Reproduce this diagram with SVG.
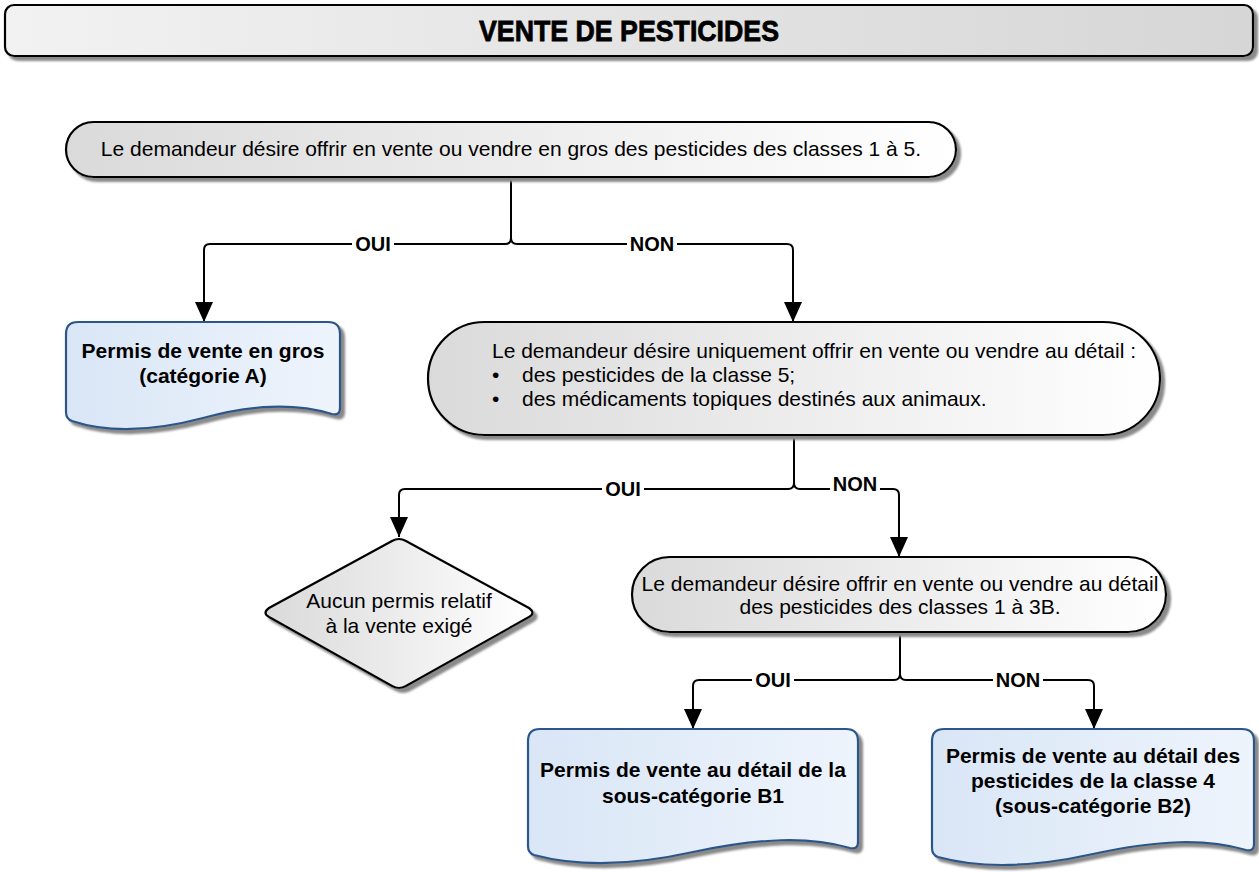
<svg xmlns="http://www.w3.org/2000/svg" width="1259" height="872" viewBox="0 0 1259 872">
<defs>
<linearGradient id="gGray" x1="0" y1="0" x2="1" y2="0">
<stop offset="0" stop-color="#dadada"/>
<stop offset="1" stop-color="#ffffff"/>
</linearGradient>
<linearGradient id="gTitle" x1="0" y1="0" x2="1" y2="0">
<stop offset="0" stop-color="#f2f2f2"/>
<stop offset="1" stop-color="#d6d6d6"/>
</linearGradient>
<linearGradient id="gBlue" x1="0" y1="0" x2="1" y2="0">
<stop offset="0" stop-color="#d9e6f6"/>
<stop offset="1" stop-color="#eef4fc"/>
</linearGradient>
<filter id="sh" x="-10%" y="-20%" width="120%" height="140%">
<feDropShadow dx="4" dy="4" stdDeviation="0.8" flood-color="#8a8a8a" flood-opacity="1"/>
</filter>
<marker id="arr" markerUnits="userSpaceOnUse" markerWidth="20" markerHeight="20" viewBox="0 0 20 18" refX="20" refY="9" orient="auto">
<path d="M0,0 L20,9 L0,18 Z" fill="#000"/>
</marker>
</defs>
<style>
.gray{fill:url(#gGray);stroke:#000;stroke-width:2.2;filter:url(#sh)}
.blue{fill:url(#gBlue);stroke:#2b578a;stroke-width:2.2;filter:url(#sh)}
.t{font-family:"Liberation Sans",Arial,sans-serif;font-size:21px;fill:#000}
.b{font-family:"Liberation Sans",Arial,sans-serif;font-size:21px;font-weight:bold;fill:#000}
.lbl{font-family:"Liberation Sans",Arial,sans-serif;font-size:20px;font-weight:bold;fill:#000}
.c{fill:none;stroke:#000;stroke-width:2}
.lb{fill:#fff}
</style>

<g id="title">
<rect x="5" y="5" width="1248" height="51" rx="9" fill="url(#gTitle)" stroke="#000" stroke-width="2.2" filter="url(#sh)"/>
<text x="629" y="41" text-anchor="middle" font-family="Liberation Sans,Arial,sans-serif" font-size="30" font-weight="bold" stroke="#000" stroke-width="0.8" textLength="300" lengthAdjust="spacingAndGlyphs">VENTE DE PESTICIDES</text>
</g>

<g id="connectors">
<path class="c" d="M511,177 V238 Q511,244 505,244 H210 Q204,244 204,250 V322" marker-end="url(#arr)"/>
<path class="c" d="M511,238 Q511,244 517,244 H787 Q793,244 793,250 V322" marker-end="url(#arr)"/>
<path class="c" d="M794,435 V483 Q794,489 788,489 H405 Q399,489 399,495 V537" marker-end="url(#arr)"/>
<path class="c" d="M794,483 Q794,489 800,489 H893 Q899,489 899,495 V557" marker-end="url(#arr)"/>
<path class="c" d="M900,632 V674 Q900,680 894,680 H699 Q693,680 693,686 V729" marker-end="url(#arr)"/>
<path class="c" d="M900,674 Q900,680 906,680 H1088 Q1094,680 1094,686 V729" marker-end="url(#arr)"/>
<rect class="lb" x="352" y="234" width="42" height="20"/>
<text class="lbl" x="373" y="251" text-anchor="middle">OUI</text>
<rect class="lb" x="627" y="234" width="50" height="20"/>
<text class="lbl" x="652" y="251" text-anchor="middle">NON</text>
<rect class="lb" x="602" y="479" width="42" height="20"/>
<text class="lbl" x="623" y="496" text-anchor="middle">OUI</text>
<rect class="lb" x="830" y="474" width="50" height="20"/>
<text class="lbl" x="855" y="491" text-anchor="middle">NON</text>
<rect class="lb" x="752" y="670" width="42" height="20"/>
<text class="lbl" x="773" y="687" text-anchor="middle">OUI</text>
<rect class="lb" x="993" y="670" width="50" height="20"/>
<text class="lbl" x="1018" y="687" text-anchor="middle">NON</text>
</g>

<g id="node1">
<rect class="gray" x="66" y="122" width="890" height="55" rx="27.5"/>
<text class="t" x="511" y="156" text-anchor="middle">Le demandeur désire offrir en vente ou vendre en gros des pesticides des classes 1 à 5.</text>
</g>

<g id="nodeA">
<path class="blue" d="M66,334 Q66,322 78,322 L328,322 Q340,322 340,334 L340,408 Q340,416 332,414 C292,402 250,405 203,418 C150,432 105,432 72,421 Q66,419 66,412 Z"/>
<text class="b" x="203" y="358" text-anchor="middle">Permis de vente en gros</text>
<text class="b" x="203" y="383" text-anchor="middle">(catégorie A)</text>
</g>

<g id="node2">
<rect class="gray" x="428" y="322" width="732" height="113" rx="56.5"/>
<text class="t" x="492" y="358">Le demandeur désire uniquement offrir en vente ou vendre au détail :</text>
<text class="t" x="492" y="382">•</text>
<text class="t" x="522" y="382">des pesticides de la classe 5;</text>
<text class="t" x="492" y="406">•</text>
<text class="t" x="522" y="406">des médicaments topiques destinés aux animaux.</text>
</g>

<g id="nodeNone">
<path class="gray" d="M392,541 Q399,537 406,541 L529,608 Q536,613 529,617 L406,686 Q399,690 392,686 L269,617 Q262,613 269,608 Z"/>
<text class="t" x="399" y="608" text-anchor="middle">Aucun permis relatif</text>
<text class="t" x="399" y="633" text-anchor="middle">à la vente exigé</text>
</g>

<g id="node3">
<rect class="gray" x="632" y="557" width="534" height="75" rx="37.5"/>
<text class="t" x="900" y="591" text-anchor="middle">Le demandeur désire offrir en vente ou vendre au détail</text>
<text class="t" x="900" y="614" text-anchor="middle">des pesticides des classes 1 à 3B.</text>
</g>

<g id="nodeB1">
<path class="blue" d="M528,741 Q528,729 540,729 L846,729 Q858,729 858,741 L858,842 Q858,850 850,848 C808,836 760,838 693,852 C630,866 575,866 534,855 Q528,853 528,846 Z"/>
<text class="b" x="693" y="777" text-anchor="middle">Permis de vente au détail de la</text>
<text class="b" x="693" y="803" text-anchor="middle">sous-catégorie B1</text>
</g>

<g id="nodeB2">
<path class="blue" d="M932,741 Q932,729 944,729 L1242,729 Q1254,729 1254,741 L1254,844 Q1254,852 1246,850 C1205,838 1158,840 1093,854 C1030,868 978,868 938,857 Q932,855 932,848 Z"/>
<text class="b" x="1093" y="763" text-anchor="middle">Permis de vente au détail des</text>
<text class="b" x="1093" y="788" text-anchor="middle">pesticides de la classe 4</text>
<text class="b" x="1093" y="813" text-anchor="middle">(sous-catégorie B2)</text>
</g>
</svg>
